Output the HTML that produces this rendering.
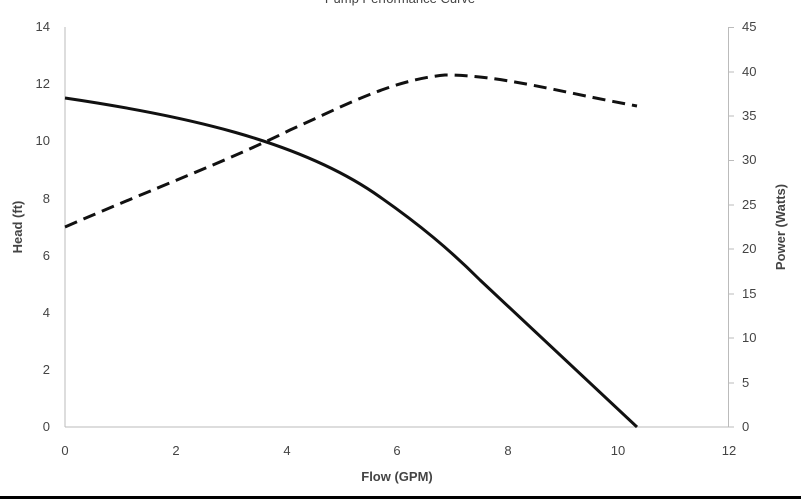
<!DOCTYPE html>
<html><head><meta charset="utf-8"><style>
html,body{margin:0;padding:0;background:#fff;}
svg{display:block;}
text{font-family:"Liberation Sans","DejaVu Sans",sans-serif;fill:#444;}
</style></head><body>
<svg width="801" height="499" viewBox="0 0 801 499" xmlns="http://www.w3.org/2000/svg">
<rect width="801" height="499" fill="#fff"/>
<text x="400" y="3" font-size="13" text-anchor="middle" fill="#999">Pump Performance Curve</text>
<line x1="65" y1="27" x2="65" y2="427" stroke="#bbb" stroke-width="1"/>
<line x1="65" y1="427" x2="729" y2="427" stroke="#bbb" stroke-width="1"/>
<line x1="728.5" y1="27" x2="728.5" y2="427" stroke="#bbb" stroke-width="1"/>
<g stroke="#bbb">
<line x1="728" y1="27.5" x2="734" y2="27.5"/><line x1="728" y1="72" x2="734" y2="72"/><line x1="728" y1="116" x2="734" y2="116"/><line x1="728" y1="160.5" x2="734" y2="160.5"/><line x1="728" y1="205" x2="734" y2="205"/><line x1="728" y1="249" x2="734" y2="249"/><line x1="728" y1="294" x2="734" y2="294"/><line x1="728" y1="338" x2="734" y2="338"/><line x1="728" y1="383" x2="734" y2="383"/><line x1="728" y1="427" x2="734" y2="427"/>
</g>
<g font-size="13" text-anchor="end">
<text x="50" y="31">14</text><text x="50" y="88">12</text><text x="50" y="145">10</text><text x="50" y="203">8</text><text x="50" y="260">6</text><text x="50" y="317">4</text><text x="50" y="374">2</text><text x="50" y="431">0</text>
</g>
<g font-size="13" text-anchor="start">
<text x="742" y="31">45</text><text x="742" y="76">40</text><text x="742" y="120">35</text><text x="742" y="164">30</text><text x="742" y="209">25</text><text x="742" y="253">20</text><text x="742" y="298">15</text><text x="742" y="342">10</text><text x="742" y="387">5</text><text x="742" y="431">0</text>
</g>
<g font-size="13" text-anchor="middle">
<text x="65" y="455">0</text><text x="176" y="455">2</text><text x="287" y="455">4</text><text x="397" y="455">6</text><text x="508" y="455">8</text><text x="618" y="455">10</text><text x="729" y="455">12</text>
</g>
<text x="397" y="481" font-size="13" font-weight="bold" text-anchor="middle">Flow (GPM)</text>
<text transform="translate(22,227) rotate(-90)" font-size="13" font-weight="bold" text-anchor="middle">Head (ft)</text>
<text transform="translate(785,227) rotate(-90)" font-size="13" font-weight="bold" text-anchor="middle">Power (Watts)</text>
<path d="M65,98 C180,115 300,140 380,197 C420,225 450,250 480,280 L637,427" fill="none" stroke="#111" stroke-width="3"/>
<path d="M65,227 C150,190 230,160 290,130 C340,108 390,80 445,75 C500,75 560,92 637,106" fill="none" stroke="#111" stroke-width="3" stroke-dasharray="13,7"/>
<rect x="0" y="496" width="801" height="3" fill="#000"/>
</svg>
</body></html>
